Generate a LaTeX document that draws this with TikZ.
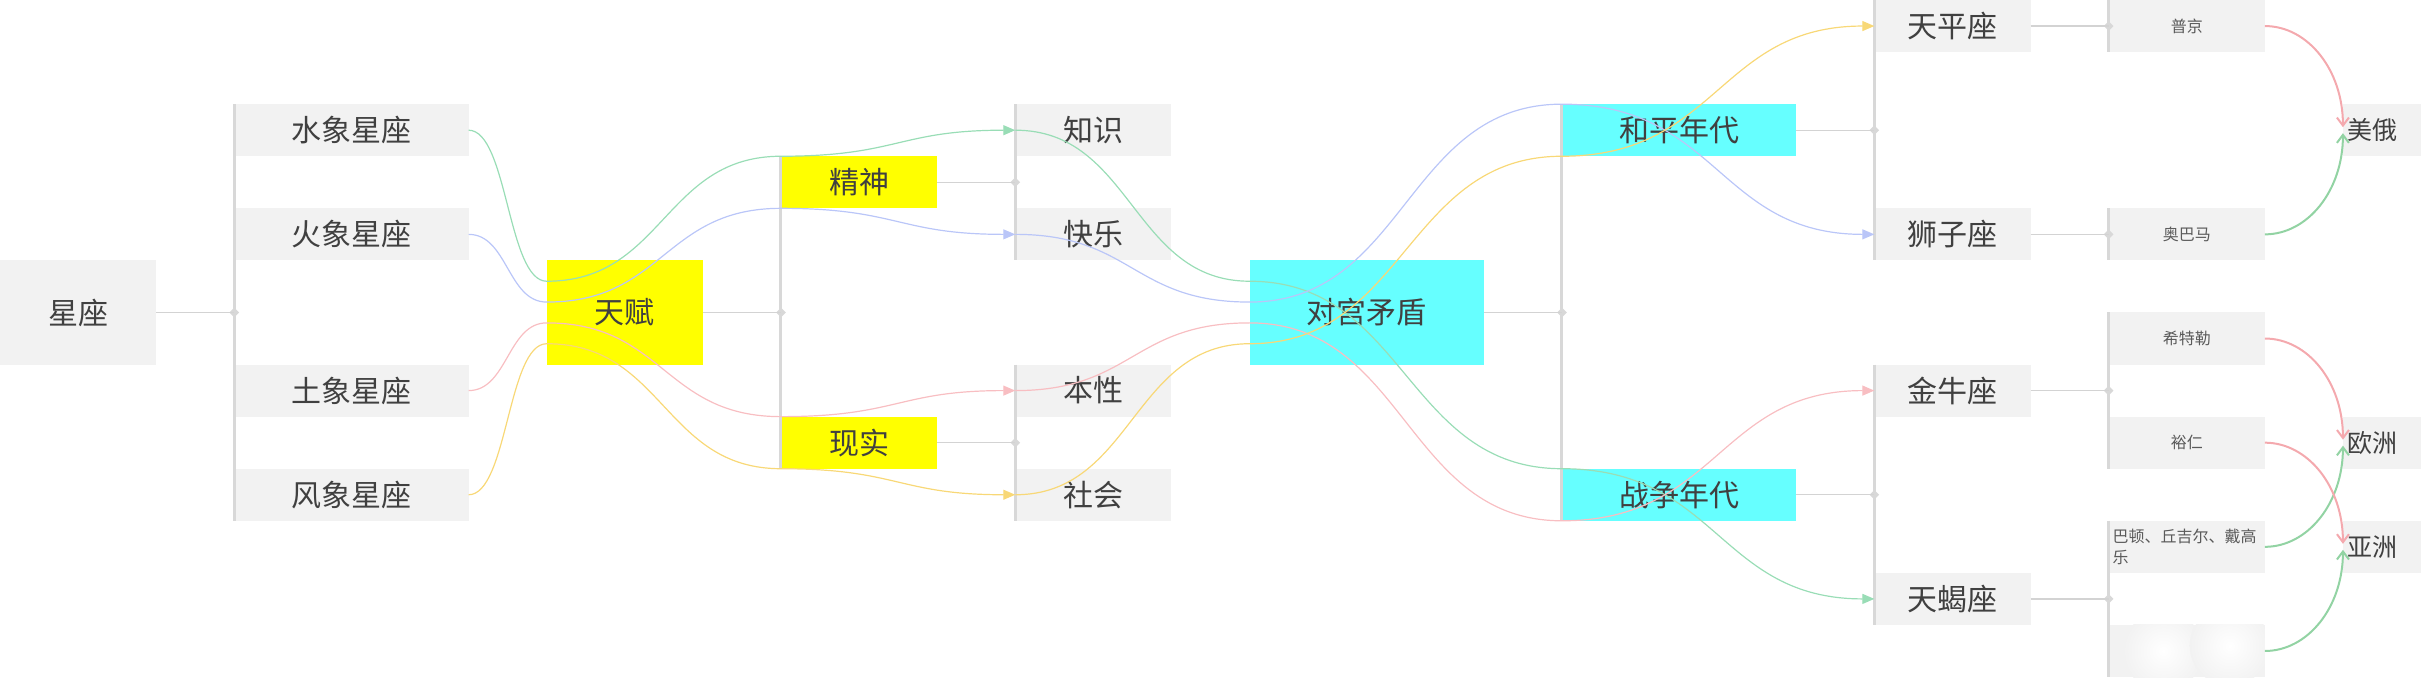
\documentclass[tikz,border=0pt]{standalone}
\usepackage{fontspec}
\setmainfont{Noto Sans CJK SC}
\usetikzlibrary{arrows.meta,positioning,calc,shapes.geometric}

\definecolor{boxgray}{HTML}{F2F2F2}
\definecolor{bargray}{HTML}{D8D8D8}
\definecolor{linegray}{HTML}{D3D3D3}
\definecolor{txtgray}{HTML}{404040}
\definecolor{namegray}{HTML}{5A5A5A}
\definecolor{talent}{HTML}{FFFF00}
\definecolor{clash}{HTML}{66FFFF}
\definecolor{lgreen}{HTML}{99DDB6}
\definecolor{lblue}{HTML}{BAC6F8}
\definecolor{lred}{HTML}{F8BEC2}
\definecolor{lyellow}{HTML}{F8D877}
\definecolor{tred}{HTML}{F4A9AE}
\definecolor{tgreen}{HTML}{92D3A3}

\begin{document}
\begin{tikzpicture}[
  x=39.05pt, y=-26.04pt,
  node distance=26.04pt and 39.05pt,
  box/.style={fill=boxgray, text=txtgray, inner sep=0pt, outer sep=0pt, anchor=north west, minimum height=26.04pt, font=\fontsize{15}{18}\selectfont},
  twobox/.style={box, minimum width=78.1pt},
  threebox/.style={box, minimum width=117.15pt},
  tall/.style={minimum height=52.08pt},
  namebox/.style={twobox, text=namegray, font=\fontsize{8}{10.5}\selectfont},
  placebox/.style={box, text width=34.05pt, inner xsep=2.5pt, align=left, font=\fontsize{12.5}{15}\selectfont},
  barline/.style={draw=bargray, line width=1.5pt},
  link/.style={draw=linegray, line width=0.7pt},
  junction/.style={diamond, fill=bargray, inner sep=0pt, minimum size=5pt},
  flow/.style={line width=0.6pt, -{Triangle[length=6pt,width=5pt]}},
  tie/.style={line width=1pt, -{Straight Barb[length=4pt,width=6pt]}}
]
\useasboundingbox (0,0) rectangle (31.115,13.172);

\node[twobox, tall] (xingzuo) at (0,5) {星座};
\node[threebox] (shui) at (3,2) {水象星座};
\node[threebox, below=of shui] (huo) {火象星座};
\node[threebox] (tu) at (3,7) {土象星座};
\node[threebox, below=of tu] (feng) {风象星座};
\node[twobox, tall, fill=talent] (tianfu) at (7,5) {天赋};
\node[twobox, fill=talent] (jingshen) at (10,3) {精神};
\node[twobox, fill=talent] (xianshi) at (10,8) {现实};
\node[twobox] (zhishi) at (13,2) {知识};
\node[twobox, below=of zhishi] (kuaile) {快乐};
\node[twobox] (benxing) at (13,7) {本性};
\node[twobox, below=of benxing] (shehui) {社会};
\node[threebox, tall, fill=clash] (duigong) at (16,5) {对宫矛盾};
\node[threebox, fill=clash] (heping) at (20,2) {和平年代};
\node[threebox, fill=clash] (zhanzheng) at (20,9) {战争年代};
\node[twobox] (tianping) at (24,0) {天平座};
\node[twobox] (shizi) at (24,4) {狮子座};
\node[twobox] (jinniu) at (24,7) {金牛座};
\node[twobox] (tianxie) at (24,11) {天蝎座};
\node[namebox] (pujing) at (27,0) {普京};
\node[namebox] (aobama) at (27,4) {奥巴马};
\node[namebox] (xitele) at (27,6) {希特勒};
\node[namebox, below=of xitele] (yuren) {裕仁};
\node[namebox, text width=74.1pt, inner xsep=2pt, align=left, below=of yuren] (badun) {巴顿、丘吉尔、戴高\\乐};
\node[namebox, below=of badun] (kong) {};
\node[placebox] (meie) at (30,2) {美俄};
\node[placebox] (ouzhou) at (30,8) {欧洲};
\node[placebox, below=of ouzhou] (yazhou) {亚洲};

\begin{scope}
\clip (kong.north west) rectangle (kong.south east);
\shade[inner color=white, outer color=boxgray] (27.7,12.5) circle (20pt);
\shade[inner color=white, outer color=boxgray] (28.55,12.4) circle (20pt);
\end{scope}

\draw[barline] (shui.north west) -- (feng.south west);
\draw[barline] (jingshen.north west) -- (xianshi.south west);
\draw[barline] (zhishi.north west) -- (kuaile.south west);
\draw[barline] (benxing.north west) -- (shehui.south west);
\draw[barline] (heping.north west) -- (zhanzheng.south west);
\draw[barline] (tianping.north west) -- (shizi.south west);
\draw[barline] (jinniu.north west) -- (tianxie.south west);
\draw[barline] (pujing.north west) -- (pujing.south west);
\draw[barline] (aobama.north west) -- (aobama.south west);
\draw[barline] (xitele.north west) -- (yuren.south west);
\draw[barline] (badun.north west) -- (kong.south west);

\node[junction] (j1) at (xingzuo.east -| shui.west) {};
\node[junction] (j2) at (tianfu.east -| jingshen.west) {};
\node[junction] (j3) at (jingshen.east -| zhishi.west) {};
\node[junction] (j4) at (xianshi.east -| shehui.west) {};
\node[junction] (j5) at (duigong.east -| heping.west) {};
\node[junction] (j6) at (heping.east -| tianping.west) {};
\node[junction] (j7) at (zhanzheng.east -| jinniu.west) {};
\node[junction] (j8) at (tianping.east -| pujing.west) {};
\node[junction] (j9) at (shizi.east -| aobama.west) {};
\node[junction] (j10) at (jinniu.east -| xitele.west) {};
\node[junction] (j11) at (tianxie.east -| kong.west) {};
\draw[link] (xingzuo.east) -- (j1.center);
\draw[link] (tianfu.east) -- (j2.center);
\draw[link] (jingshen.east) -- (j3.center);
\draw[link] (xianshi.east) -- (j4.center);
\draw[link] (duigong.east) -- (j5.center);
\draw[link] (heping.east) -- (j6.center);
\draw[link] (zhanzheng.east) -- (j7.center);
\draw[link] (tianping.east) -- (j8.center);
\draw[link] (shizi.east) -- (j9.center);
\draw[link] (jinniu.east) -- (j10.center);
\draw[link] (tianxie.east) -- (j11.center);

\coordinate (t1) at ($(tianfu.north west)!0.2!(tianfu.south west)$);
\coordinate (t2) at ($(tianfu.north west)!0.4!(tianfu.south west)$);
\coordinate (t3) at ($(tianfu.north west)!0.6!(tianfu.south west)$);
\coordinate (t4) at ($(tianfu.north west)!0.8!(tianfu.south west)$);
\coordinate (d1) at ($(duigong.north west)!0.2!(duigong.south west)$);
\coordinate (d2) at ($(duigong.north west)!0.4!(duigong.south west)$);
\coordinate (d3) at ($(duigong.north west)!0.6!(duigong.south west)$);
\coordinate (d4) at ($(duigong.north west)!0.8!(duigong.south west)$);

\draw[flow, lgreen] (shui.east) .. controls +(0.5,0) and +(-0.5,0) .. (t1) .. controls +(1.5,0) and +(-1.5,0) .. (jingshen.north west) .. controls +(1.5,0) and +(-1.5,0) .. (zhishi.west);
\draw[flow, lblue] (huo.east) .. controls +(0.5,0) and +(-0.5,0) .. (t2) .. controls +(1.5,0) and +(-1.5,0) .. (jingshen.south west) .. controls +(1.5,0) and +(-1.5,0) .. (kuaile.west);
\draw[flow, lred] (tu.east) .. controls +(0.5,0) and +(-0.5,0) .. (t3) .. controls +(1.5,0) and +(-1.5,0) .. (xianshi.north west) .. controls +(1.5,0) and +(-1.5,0) .. (benxing.west);
\draw[flow, lyellow] (feng.east) .. controls +(0.5,0) and +(-0.5,0) .. (t4) .. controls +(1.5,0) and +(-1.5,0) .. (xianshi.south west) .. controls +(1.5,0) and +(-1.5,0) .. (shehui.west);
\draw[flow, lgreen] (zhishi.west) .. controls +(1.5,0) and +(-1.5,0) .. (d1) .. controls +(2,0) and +(-2,0) .. (zhanzheng.north west) .. controls +(2,0) and +(-2,0) .. (tianxie.west);
\draw[flow, lblue] (kuaile.west) .. controls +(1.5,0) and +(-1.5,0) .. (d2) .. controls +(2,0) and +(-2,0) .. (heping.north west) .. controls +(2,0) and +(-2,0) .. (shizi.west);
\draw[flow, lred] (benxing.west) .. controls +(1.5,0) and +(-1.5,0) .. (d3) .. controls +(2,0) and +(-2,0) .. (zhanzheng.south west) .. controls +(2,0) and +(-2,0) .. (jinniu.west);
\draw[flow, lyellow] (shehui.west) .. controls +(1.5,0) and +(-1.5,0) .. (d4) .. controls +(2,0) and +(-2,0) .. (heping.south west) .. controls +(2,0) and +(-2,0) .. (tianping.west);

\draw[tie, tred] (pujing.east) .. controls +(0.55,0) and +(0,-1.1) .. ([yshift=1.5pt]meie.west);
\draw[tie, tgreen] (aobama.east) .. controls +(0.55,0) and +(0,1.1) .. ([yshift=-1.5pt]meie.west);
\draw[tie, tred] (xitele.east) .. controls +(0.55,0) and +(0,-1.1) .. ([yshift=1.5pt]ouzhou.west);
\draw[tie, tgreen] (badun.east) .. controls +(0.55,0) and +(0,1.1) .. ([yshift=-1.5pt]ouzhou.west);
\draw[tie, tred] (yuren.east) .. controls +(0.55,0) and +(0,-1.1) .. ([yshift=1.5pt]yazhou.west);
\draw[tie, tgreen] (kong.east) .. controls +(0.55,0) and +(0,1.1) .. ([yshift=-1.5pt]yazhou.west);
\end{tikzpicture}
\end{document}
